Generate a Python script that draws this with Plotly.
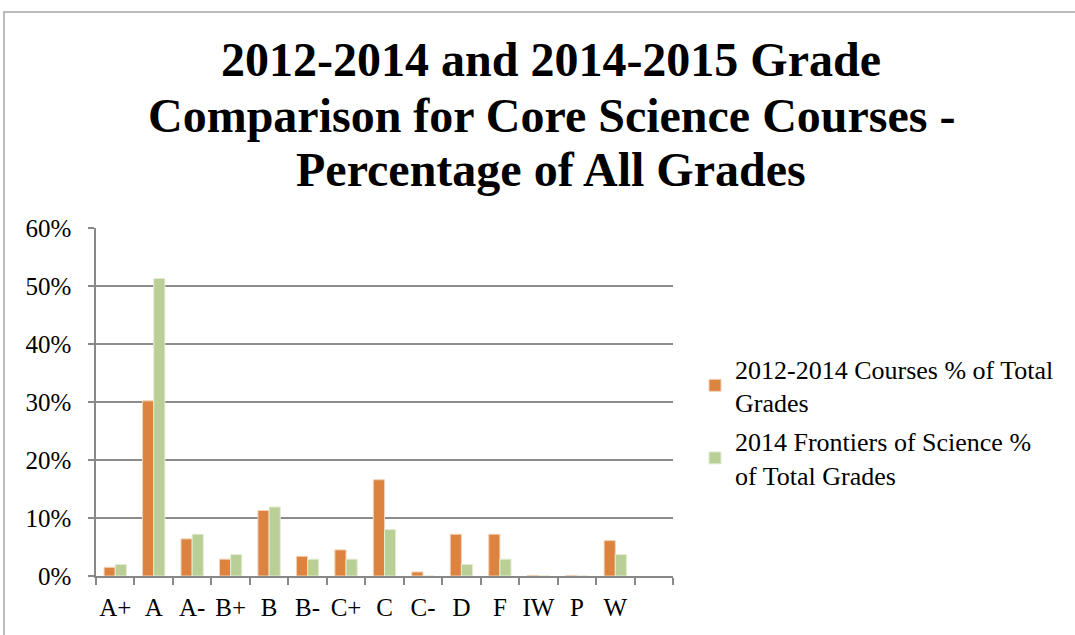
import plotly.graph_objects as go

grades = ["A+", "A", "A-", "B+", "B", "B-", "C+", "C", "C-", "D", "F", "IW", "P", "W", " "]
courses_2012_2014 = [1.5, 30.2, 6.4, 2.9, 11.3, 3.4, 4.5, 16.6, 0.7, 7.2, 7.2, 0.1, 0.1, 6.1, None]
frontiers_2014 = [2.0, 51.3, 7.2, 3.7, 11.9, 2.9, 2.9, 8.0, 0.0, 2.0, 2.9, 0.0, 0.0, 3.7, None]
y_ticks = [0, 10, 20, 30, 40, 50, 60]
y_tick_labels = ["0%", "10%", "20%", "30%", "40%", "50%", "60%"]
title_lines = ["2012-2014 and 2014-2015 Grade",
               "Comparison for Core Science Courses -",
               "Percentage of All Grades"]

serif = "Liberation Serif, Times New Roman, serif"

fig = go.Figure()
fig.add_trace(go.Bar(x=grades, y=courses_2012_2014,
                     name="2012-2014 Courses % of Total<br>Grades", legendgroup="a",
                     marker=dict(color="#DC833F", line=dict(color="#F3D2B6", width=1))))
fig.add_trace(go.Bar(x=grades, y=frontiers_2014,
                     name="2014 Frontiers of Science %<br>of Total Grades", legendgroup="b",
                     marker=dict(color="#B9CF96", line=dict(color="#E3EDD4", width=1))))

W, H = 1075, 635
L, R, T, B = 96, 673, 228, 576


def px_x(px):
    return (px - L) / (R - L)


def px_y(py):
    return (B - py) / (B - T)


fig.update_layout(
    width=W, height=H,
    margin=dict(l=L, r=W - R, t=T, b=H - B, pad=0, autoexpand=False),
    paper_bgcolor="white", plot_bgcolor="white",
    barmode="group", bargap=0.42, bargroupgap=0.0,
    font=dict(family=serif, color="black", size=25),
    legend=dict(x=px_x(695), y=px_y(345), xanchor="left", yanchor="top",
                font=dict(family=serif, size=26, color="black"),
                traceorder="grouped", tracegroupgap=2, itemwidth=30,
                bgcolor="rgba(0,0,0,0)"),
    showlegend=True,
)

# title lines as centred text
for txt, cy in zip(title_lines, [60, 116, 170]):
    fig.add_annotation(text="<b>" + txt + "</b>", xref="paper", yref="paper",
                       x=px_x(551), y=px_y(cy), xanchor="center", yanchor="middle",
                       showarrow=False, font=dict(family=serif, size=48, color="black"))

fig.update_xaxes(type="category", tickson="boundaries", ticks="outside", ticklen=7,
                 tickcolor="#888888", tickwidth=1.5, showline=True, linecolor="#888888",
                 linewidth=1.5, showgrid=False, tickfont=dict(family=serif, size=25),
                 tickangle=0, range=[-0.5, 14.5], automargin=False, ticklabelstandoff=8)
fig.update_yaxes(range=[0, 60], tickvals=y_ticks, ticktext=y_tick_labels, ticks="outside",
                 ticklen=6, tickcolor="#888888", tickwidth=1.5, showline=True,
                 linecolor="#888888", linewidth=1.5, showgrid=True, gridcolor="#8c8c8c",
                 gridwidth=1.5, zeroline=False, tickfont=dict(family=serif, size=25),
                 automargin=False, ticklabelstandoff=12)

# outer chart frame
fig.add_shape(type="rect", xref="paper", yref="paper",
              x0=px_x(4), x1=px_x(1090), y0=px_y(650), y1=px_y(12),
              line=dict(color="#a6a6a6", width=1.5), fillcolor="rgba(0,0,0,0)", layer="below")

fig.write_html("out.html", config={"displayModeBar": False},
               post_script="document.body.style.margin='0';document.body.style.overflow='hidden';")
